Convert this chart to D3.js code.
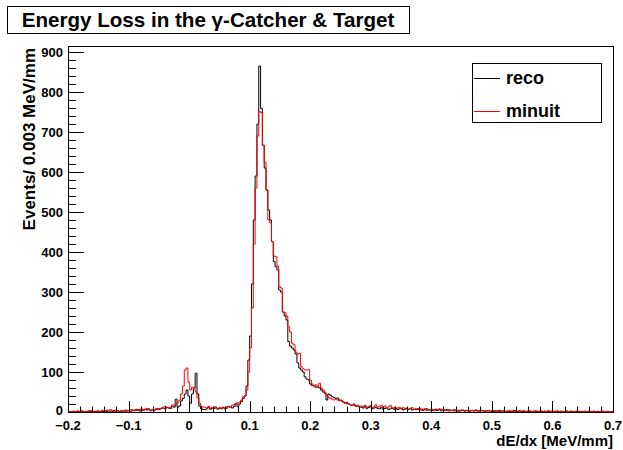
<!DOCTYPE html>
<html>
<head>
<meta charset="utf-8">
<script src="https://cdn.jsdelivr.net/npm/d3@7"></script>
<style>
  body { margin: 0; background: #fff; }
  text { font-family: "Liberation Sans", Arial, Helvetica, sans-serif; font-weight: bold; fill: #000; }
</style>
</head>
<body>
<svg id="chart" width="623" height="450"></svg>
<script>
'use strict';

// histogram binning: 300 bins of 0.003 MeV/mm from -0.2 to 0.7
var xLow = -0.2,
    binWidth = 0.003;

// black histogram ("reco"), counts per bin
var reco = [
  0, 1, 0, 2, 1, 0, 1, 3, 1, 0,
  2, 1, 3, 0, 2, 1, 2, 0, 3, 1,
  2, 1, 3, 2, 1, 4, 2, 3, 1, 2,
  3, 2, 4, 3, 2, 5, 3, 4, 6, 3,
  5, 4, 6, 5, 7, 3, 5, 4, 6, 8,
  7, 9, 10, 8, 11, 10, 9, 14, 12, 32,
  12, 15, 28, 34, 45, 55, 40, 22, 45, 60,
  97, 45, 15, 8, 6, 6, 8, 12, 7, 10,
  9, 12, 7, 9, 8, 11, 8, 10, 14, 12,
  10, 14, 22, 13, 20, 26, 34, 40, 65, 130,
  190, 320, 480, 590, 720, 865, 759, 667, 610, 555,
  505, 480, 426, 376, 363, 355, 305, 300, 250, 240,
  230, 176, 165, 160, 155, 145, 123, 110, 105, 100,
  88, 82, 80, 70, 66, 65, 62, 63, 60, 55,
  50, 47, 30, 45, 42, 38, 36, 34, 35, 30,
  28, 25, 22, 24, 20, 18, 16, 19, 14, 15,
  13, 12, 10, 14, 9, 11, 13, 8, 10, 12,
  9, 8, 11, 7, 9, 10, 6, 8, 9, 7,
  10, 6, 8, 9, 5, 7, 8, 6, 9, 5,
  7, 6, 8, 5, 7, 4, 6, 8, 5, 6,
  4, 5, 7, 4, 6, 3, 5, 4, 6, 3,
  5, 4, 3, 5, 4, 2, 4, 5, 3, 4,
  2, 3, 4, 2, 5, 3, 2, 4, 3, 2,
  3, 4, 2, 3, 1, 3, 2, 4, 2, 3,
  1, 2, 3, 1, 2, 4, 2, 1, 3, 2,
  1, 2, 1, 3, 2, 1, 2, 3, 1, 2,
  1, 1, 2, 1, 3, 1, 2, 0, 2, 1,
  1, 2, 1, 0, 2, 1, 1, 2, 0, 1,
  2, 1, 0, 1, 2, 1, 0, 1, 1, 2,
  0, 1, 1, 0, 2, 1, 0, 1, 1, 0
];

// red histogram ("minuit"), counts per bin
var minuit = [
  1, 0, 2, 1, 0, 3, 1, 0, 2, 1,
  1, 3, 2, 1, 0, 2, 3, 1, 2, 4,
  2, 5, 3, 6, 4, 2, 5, 3, 2, 4,
  3, 5, 2, 4, 6, 3, 5, 7, 4, 6,
  8, 5, 7, 9, 8, 4, 6, 5, 8, 6,
  9, 10, 12, 14, 12, 10, 12, 18, 17, 19,
  24, 30, 45, 65, 105, 110, 75, 55, 62, 58,
  50, 35, 22, 14, 12, 12, 10, 14, 9, 11,
  13, 10, 8, 11, 10, 12, 9, 13, 14, 12,
  17, 18, 20, 22, 25, 30, 38, 40, 55, 100,
  160, 260, 420, 560, 690, 751, 748, 667, 624, 555,
  480, 473, 426, 390, 388, 365, 313, 310, 250, 248,
  240, 213, 200, 172, 168, 150, 145, 147, 113, 108,
  105, 105, 106, 80, 70, 65, 68, 63, 72, 60,
  55, 50, 42, 36, 34, 32, 30, 31, 30, 28,
  30, 25, 22, 20, 21, 18, 17, 20, 15, 17,
  14, 15, 13, 17, 12, 14, 16, 11, 13, 18,
  12, 14, 17, 12, 15, 11, 13, 16, 10, 12,
  9, 10, 12, 8, 11, 9, 10, 7, 9, 11,
  6, 8, 6, 9, 5, 7, 8, 4, 6, 5,
  7, 5, 4, 6, 8, 7, 3, 5, 4, 6,
  3, 4, 6, 3, 2, 4, 5, 3, 2, 4,
  3, 2, 4, 3, 5, 2, 3, 4, 2, 3,
  2, 3, 1, 2, 4, 2, 3, 1, 2, 3,
  2, 1, 2, 3, 2, 1, 3, 2, 1, 2,
  3, 2, 1, 2, 3, 1, 2, 1, 2, 1,
  3, 1, 2, 1, 1, 2, 0, 2, 1, 3,
  1, 2, 1, 1, 3, 0, 2, 1, 1, 2,
  1, 1, 2, 0, 1, 1, 2, 1, 0, 1,
  1, 2, 1, 0, 1, 1, 2, 0, 1, 1
];

var xTickValues = [-0.2, -0.1, 0, 0.1, 0.2, 0.3, 0.4, 0.5, 0.6, 0.7];
var yTickValues = [0, 100, 200, 300, 400, 500, 600, 700, 800, 900];
var seriesNames = ['reco', 'minuit'];
var seriesColors = ['#000000', '#ff0000'];

var frame = { left: 68, right: 613, top: 46, bottom: 412 };

var svg = d3.select('#chart');

var x = d3.scaleLinear().domain([-0.2, 0.7]).range([frame.left, frame.right]),
    y = d3.scaleLinear().domain([0, 915]).range([frame.bottom, frame.top]);

// title box
svg.append('rect').attr('x', 7.5).attr('y', 6.5).attr('width', 402).attr('height', 27)
  .attr('fill', '#fff').attr('stroke', '#000');
svg.append('text').attr('x', 208).attr('y', 27).attr('text-anchor', 'middle')
  .style('font-size', '20.6px').text('Energy Loss in the \u03b3-Catcher & Target');

// frame
svg.append('rect').attr('x', frame.left + 0.5).attr('y', frame.top + 0.5)
  .attr('width', frame.right - frame.left).attr('height', frame.bottom - frame.top)
  .attr('fill', 'none').attr('stroke', '#000');

// histograms as step outlines
function steps(counts) {
  var pts = counts.map(function (c, i) { return [xLow + i * binWidth, c]; });
  pts.push([xLow + counts.length * binWidth, counts[counts.length - 1]]);
  return pts;
}
var line = d3.line()
  .x(function (d) { return x(d[0]); })
  .y(function (d) { return y(d[1]); })
  .curve(d3.curveStepAfter);

[reco, minuit].forEach(function (counts, k) {
  svg.append('path').datum(steps(counts))
    .attr('d', line).attr('fill', 'none')
    .attr('stroke', seriesColors[k]).attr('stroke-width', 1);
});

// y axis ticks (pointing into the frame)
var yMinor = d3.range(0, 901, 20);
svg.append('g').selectAll('line').data(yMinor).enter().append('line')
  .attr('x1', frame.left).attr('x2', function (d) { return frame.left + (d % 100 === 0 ? 16 : 8); })
  .attr('y1', function (d) { return Math.round(y(d)) + 0.5; })
  .attr('y2', function (d) { return Math.round(y(d)) + 0.5; })
  .attr('stroke', '#000');
svg.append('g').selectAll('text').data(yTickValues).enter().append('text')
  .attr('x', 63).attr('y', function (d) { return y(d) + (d === 0 ? 3 : 5); })
  .attr('text-anchor', 'end').style('font-size', '13px')
  .text(function (d) { return d; });

// x axis ticks (pointing up)
var xMinor = d3.range(0, 46).map(function (i) { return -0.2 + i * 0.02; });
svg.append('g').selectAll('line').data(xMinor).enter().append('line')
  .attr('x1', function (d) { return Math.round(x(d)) + 0.5; })
  .attr('x2', function (d) { return Math.round(x(d)) + 0.5; })
  .attr('y1', frame.bottom)
  .attr('y2', function (d, i) { return frame.bottom - (i % 5 === 0 ? 11 : 5.5); })
  .attr('stroke', '#000');
svg.append('g').selectAll('text').data(xTickValues).enter().append('text')
  .attr('x', function (d) { return x(d); }).attr('y', 430)
  .attr('text-anchor', 'middle').style('font-size', '13px')
  .text(function (d) { return d3.format('.1~f')(d); });

// axis titles
svg.append('text').attr('x', frame.right).attr('y', 446).attr('text-anchor', 'end')
  .style('font-size', '15px').text('dE/dx [MeV/mm]');
svg.append('text').attr('transform', 'translate(35,' + (frame.top + 2) + ') rotate(-90)')
  .attr('text-anchor', 'end').style('font-size', '17px').text('Events/ 0.003 MeV/mm');

// legend
var legend = svg.append('g');
legend.append('rect').attr('x', 472.5).attr('y', 63.5).attr('width', 129).attr('height', 59)
  .attr('fill', '#fff').attr('stroke', '#000');
seriesNames.forEach(function (name, k) {
  var ly = 78 + k * 33;
  legend.append('line').attr('x1', 474).attr('x2', 500).attr('y1', ly + 0.5).attr('y2', ly + 0.5)
    .attr('stroke', seriesColors[k]);
  legend.append('text').attr('x', 506).attr('y', ly + 6).style('font-size', '18px').text(name);
});
</script>
</body>
</html>
